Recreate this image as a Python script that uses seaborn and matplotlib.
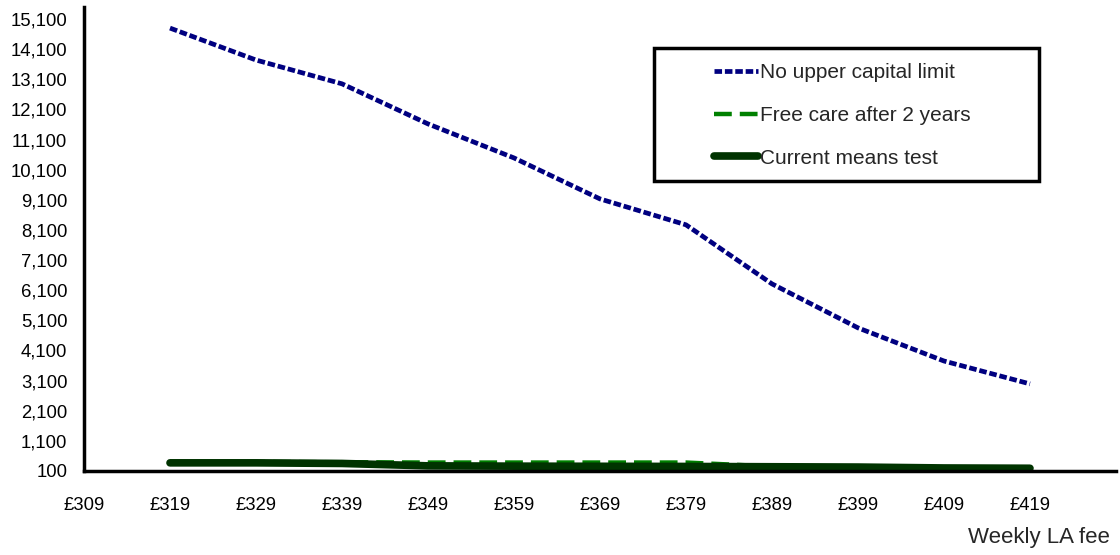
import matplotlib
matplotlib.use('Agg')
import matplotlib.pyplot as plt
import numpy as np
import pandas as pd
import seaborn as sns
from matplotlib.patches import Rectangle

# weekly LA fee (£) and the three series
fees = [319, 329, 339, 349, 359, 369, 379, 389, 399, 409, 419]
no_upper_limit = [14800, 13740, 12950, 11620, 10490, 9130, 8270, 6310, 4850, 3750, 2990]
free_care_2yrs = [400, 400, 390, 380, 380, 380, 380, 250, 240, 210, 200]
current_means = [370, 370, 350, 270, 260, 255, 250, 240, 230, 200, 190]

series_names = ['No upper capital limit', 'Free care after 2 years', 'Current means test']
x_ticks = list(range(309, 430, 10))
x_labels = ['£%d' % t for t in x_ticks[:-1]] + ['']
y_ticks = list(range(100, 15101, 1000))

df = pd.DataFrame({'fee': fees,
                   series_names[0]: no_upper_limit,
                   series_names[1]: free_care_2yrs,
                   series_names[2]: current_means})

sns.set_style('white')
plt.rcParams['font.family'] = ['Liberation Sans', 'DejaVu Sans']

fig = plt.figure(figsize=(11.2, 5.55), dpi=100)
ax = fig.add_axes([0.075, 0.1514, 0.9214, 0.836])

sns.lineplot(data=df, x='fee', y=series_names[0], ax=ax, color='#000080',
             linewidth=3.4, label=series_names[0])
blue = ax.lines[-1]
blue.set_dashes((1.6, 0.6))
blue.set_dash_capstyle('butt')
sns.lineplot(data=df, x='fee', y=series_names[1], ax=ax, color='#008000',
             linewidth=3.2, label=series_names[1])
ax.lines[-1].set_dashes((4, 1.8))
sns.lineplot(data=df, x='fee', y=series_names[2], ax=ax, color='#003300',
             linewidth=5.5, label=series_names[2])
ax.lines[-1].set_solid_capstyle('round')

ax.set_xlim(309, 429)
ax.set_ylim(100, 15500)
ax.set_xticks(x_ticks)
ax.set_xticklabels(x_labels)
ax.set_yticks(y_ticks)
ax.set_yticklabels(['{:,}'.format(v) for v in y_ticks])
ax.set_xlabel('')
ax.set_ylabel('')

for side in ['top', 'right']:
    ax.spines[side].set_visible(False)
for side in ['left', 'bottom']:
    ax.spines[side].set_linewidth(2.5)
    ax.spines[side].set_color('black')
ax.tick_params(axis='both', direction='out', length=5, width=2, color='black',
               labelsize=13.3, labelcolor='black')
ax.tick_params(axis='x', pad=14)
ax.tick_params(axis='y', pad=7)
ax.grid(False)

leg = ax.legend(loc='upper left', bbox_to_anchor=(714 / 1120, 1 - 63.5 / 555),
                bbox_transform=fig.transFigure, frameon=False,
                fontsize=15, handlelength=2.1, handletextpad=0.1,
                labelspacing=1.13, borderpad=0, borderaxespad=0)
for h in leg.get_lines():
    h.set_dash_capstyle('butt')

fig.patches.append(Rectangle((654 / 1120, 1 - 181 / 555), (1039 - 654) / 1120,
                             (181 - 48) / 555, transform=fig.transFigure,
                             fill=False, edgecolor='black', linewidth=2.5))

fig.text(1110 / 1120, 1 - 538 / 555, 'Weekly LA fee', ha='right', va='center',
         fontsize=16)

fig.savefig('out.png', dpi=100)
